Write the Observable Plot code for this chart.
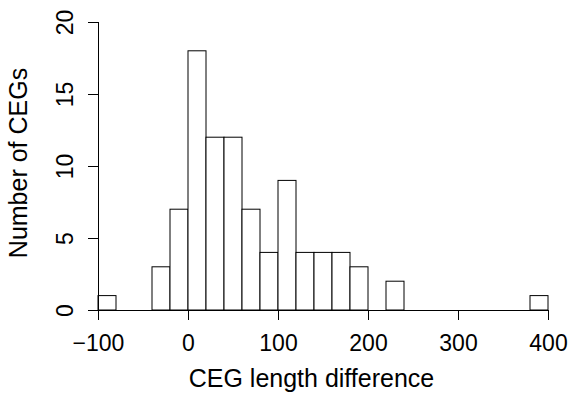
<!DOCTYPE html>
<html>
<head>
<meta charset="utf-8">
<script src="https://cdn.jsdelivr.net/npm/d3@7"></script>
<script src="https://cdn.jsdelivr.net/npm/@observablehq/plot@0.6"></script>
<style>
  html, body { margin: 0; padding: 0; background: #fff; }
  svg { display: block; }
</style>
</head>
<body>
<div id="chart"></div>
<script>
// Histogram bins (width 20) and counts
const binStarts = [-100, -80, -60, -40, -20, 0, 20, 40, 60, 80, 100, 120, 140, 160, 180, 200, 220, 240, 260, 280, 300, 320, 340, 360, 380];
const counts    = [   1,   0,   0,   3,   7, 18, 12, 12,  7,  4,   9,   4,   4,   4,   3,   0,   2,   0,   0,   0,   0,   0,   0,   0,   1];
const binWidth = 20;
const xTicks = [-100, 0, 100, 200, 300, 400];
const yTicks = [0, 5, 10, 15, 20];
const xTitle = "CEG length difference";
const yTitle = "Number of CEGs";

const bins = binStarts.map((s, i) => ({x1: s, x2: s + binWidth, count: counts[i]}));
const font = "'Liberation Sans', Arial, Helvetica, sans-serif";

const chart = Plot.plot({
  width: 574,
  height: 405,
  marginLeft: 98,
  marginRight: 26,
  marginTop: 22,
  marginBottom: 95,
  style: {fontFamily: font, fontSize: "23px", color: "#000", background: "#fff"},
  x: {domain: [-100, 400], axis: null},
  y: {domain: [0, 20], axis: null},
  marks: [
    Plot.rectY(bins, {x1: "x1", x2: "x2", y: "count", fill: "#fff", stroke: "#000", strokeWidth: 1, inset: 0}),
    Plot.ruleY([0], {x1: -100, x2: 400, stroke: "#000", strokeWidth: 1}),
    Plot.ruleX([-100], {y1: 0, y2: 20, stroke: "#000", strokeWidth: 1}),
    Plot.axisX({ticks: xTicks, tickSize: 10, tickPadding: 14, fontSize: 23, tickFormat: d => d < 0 ? "\u2212" + Math.abs(d) : String(d), label: null, stroke: "#000", strokeOpacity: 1}),
    // y tick marks
    Plot.axisY({ticks: yTicks, tickSize: 10, tickFormat: () => "", label: null, stroke: "#000", strokeOpacity: 1}),
    // y tick labels (rotated, as in R)
    Plot.axisY({ticks: yTicks, tickSize: 0, tickPadding: 33, fontSize: 23, rotate: -90, textAnchor: "middle", lineAnchor: "middle", label: null}),
    Plot.text([xTitle], {frameAnchor: "bottom", dx: -12, dy: 76, fontSize: 25, fill: "#000", text: d => d}),
    Plot.text([yTitle], {frameAnchor: "left", dx: -80, dy: -3.5, rotate: -90, textAnchor: "middle", fontSize: 25, fill: "#000", text: d => d})
  ]
});
document.getElementById("chart").appendChild(chart);
</script>
</body>
</html>
